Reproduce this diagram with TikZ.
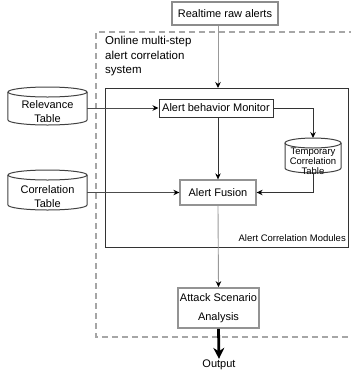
\documentclass[tikz,border=0pt]{standalone}
\usepackage{fontspec}
\setmainfont{Liberation Sans}
\usetikzlibrary{arrows.meta,calc}
\newcommand\drawcyl[4]{% x1 y1 x2 y2 (y measured downward)
  \draw[cylline] (#1,{-(#2)-5}) -- (#1,{-(#4)+5})
    arc[start angle=180,end angle=360,x radius={((#3)-(#1))/2},y radius=5]
    -- (#3,{-(#2)-5});
  \draw[cylline] ({((#1)+(#3))/2},{-(#2)-5}) ellipse[x radius={((#3)-(#1))/2},y radius=5];
}
\begin{document}
\begin{tikzpicture}[x=1pt,y=1pt,
  box/.style={draw=#1, line width=1.3pt, fill=white, inner sep=0pt,
    font=\fontsize{11}{13}\selectfont},
  box/.default=gray!85,
  cylline/.style={draw=black!75, line width=1pt},
  cyltext/.style={inner sep=0pt, align=center, font=\fontsize{11}{14}\selectfont},
  conn/.style={line width=0.9pt, draw=#1, -{Stealth[length=6pt,width=5.5pt,color=black]}},
  conn/.default=black!80,
  plain/.style={line width=0.9pt, draw=#1},
  plain/.default=black!80
]
\useasboundingbox (0,0) rectangle (351,-376);

% outer dashed boundary
\draw[gray!70, line width=1.8pt, dash pattern=on 6pt off 4pt]
  (355,-32) -- (96,-32) -- (96,-337) -- (355,-337);
\node[anchor=north west, inner sep=0pt, align=left,
  font=\fontsize{11.5}{14.5}\selectfont] (olabel) at (105,-36)
  {Online multi-step\\alert correlation\\system};

% inner module box
\node[draw=black!80, line width=1pt, minimum width=243, minimum height=159,
  anchor=north west, inner sep=0pt] (acm) at (105,-88) {};
\node[anchor=east, inner sep=0pt, font=\fontsize{9.5}{11}\selectfont] (acmlabel)
  at (346,-238) {Alert Correlation Modules};

% boxes
\node[box=gray!90, minimum width=106, minimum height=23] (rt) at (225,-13.5) {Realtime raw alerts};
\node[box=black!80, line width=1pt, minimum width=114, minimum height=18] (mon) at (216,-108) {Alert behavior Monitor};
\node[box, minimum width=76, minimum height=25] (fus) at (218,-192.5) {Alert Fusion};
\node[box, line width=1.6pt, minimum width=81, minimum height=40, align=center,
  font=\fontsize{11}{19}\selectfont] (asa) at (218.5,-308) {Attack Scenario\\Analysis};
\node[inner sep=1pt, font=\fontsize{11}{13}\selectfont] (out) at (219,-365) {Output};

% cylinders
\drawcyl{8}{87}{87}{125}
\node[cyltext, minimum width=79] (rel) at (47.5,-112) {Relevance\\Table};
\drawcyl{8}{170}{87}{210}
\node[cyltext, minimum width=79] (cor) at (47.5,-197) {Correlation\\Table};
\drawcyl{285}{138}{341}{173}
\node[cyltext, minimum width=56, font=\fontsize{9.5}{10}\selectfont] (tmp) at (313,-161)
  {Temporary\\Correlation\\Table};
\coordinate (tmptop) at (313,-138);
\coordinate (tmpbot) at (313,-173);

% connectors
\draw[conn=gray!80] (rt.south -| fus.north) -- (fus.north |- acm.north);
\draw[conn=gray!60!black] (rel.east |- mon.west) -- (mon.west);
\draw[conn] (mon.south -| fus.north) -- (fus.north);
\draw[conn] (mon.east) -| (tmptop);
\draw[conn] (tmpbot) |- (fus.east);
\draw[conn=gray!60!black] (cor.east |- fus.west) -- (fus.west);
\draw[conn=gray!80] (fus.south) -- (asa.north);
\draw[line width=2.8pt, -{Stealth[length=11pt,width=11pt]}] (asa.south) -- (out.north);
\end{tikzpicture}
\end{document}
